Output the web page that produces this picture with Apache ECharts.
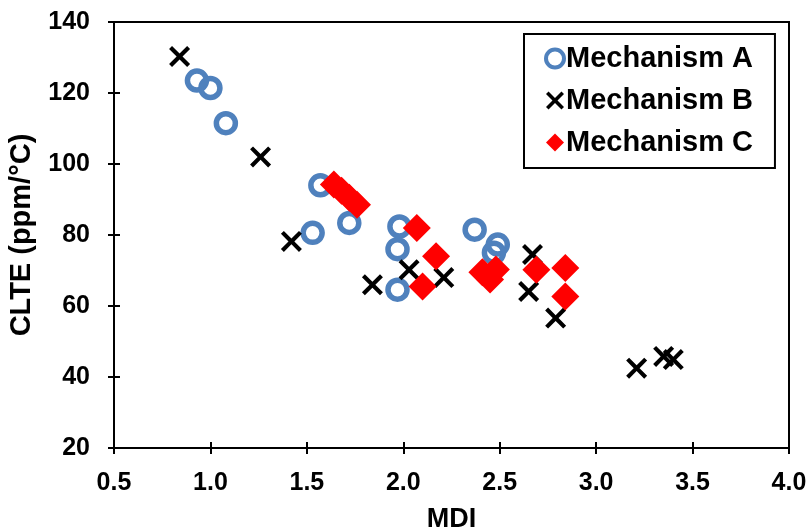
<!DOCTYPE html>
<html>
<head>
<meta charset="utf-8">
<script src="https://cdn.jsdelivr.net/npm/echarts@6/dist/echarts.min.js"></script>
<style>
  html, body { margin: 0; padding: 0; background: #fff; }
  #chart { width: 808px; height: 532px; }
</style>
</head>
<body>
<div id="chart"></div>
<script>
// MDI vs CLTE, grouped by mechanism
const mechA = [
  [0.93, 123.5], [1.00, 121.4], [1.08, 111.5], [1.57, 94.0], [1.53, 80.6],
  [1.72, 83.4], [1.98, 82.4], [1.97, 76.0], [1.97, 64.6], [2.37, 81.5],
  [2.49, 77.3], [2.47, 75.0]
];
const mechB = [
  [0.84, 130.3], [1.26, 102.0], [1.42, 78.2], [1.84, 66.0], [2.03, 70.2],
  [2.21, 68.0], [2.67, 74.5], [2.65, 64.1], [2.79, 56.6], [3.21, 42.5],
  [3.35, 45.8], [3.40, 44.9]
];
const mechC = [
  [1.64, 94.2], [1.68, 92.5], [1.72, 90.5], [1.76, 88.5], [2.07, 82.0],
  [2.17, 74.0], [2.10, 65.5], [2.41, 69.5], [2.45, 67.5], [2.48, 70.3],
  [2.69, 70.2], [2.84, 70.7], [2.84, 62.7]
];
const seriesNames = ['Mechanism A', 'Mechanism B', 'Mechanism C'];
const xRange = [0.5, 4.0, 0.5];
const yRange = [20, 140, 20];

const FONT = '"Liberation Sans", Arial, sans-serif';
const crossPath = 'path://M0,1.4L1.4,0L5,3.6L8.6,0L10,1.4L6.4,5L10,8.6L8.6,10L5,6.4L1.4,10L0,8.6L3.6,5Z';
const blue = '#4F81BD';
const red = '#FF0000';

const chart = echarts.init(document.getElementById('chart'), null, { renderer: 'canvas' });

function baseAxis(extra) {
  return Object.assign({
    type: 'value',
    splitLine: { show: false },
    axisLine: { show: true, onZero: false, lineStyle: { color: '#000', width: 2 } },
    axisTick: { show: true, length: 6, lineStyle: { color: '#000', width: 2 } }
  }, extra);
}

const option = {
  backgroundColor: '#fff',
  animation: false,
  grid: {
    left: 114, right: 19, top: 22, bottom: 84,
    containLabel: false,
    outerBoundsMode: 'none',
    show: true, borderColor: '#000', borderWidth: 2, backgroundColor: 'transparent'
  },
  legend: {
    orient: 'vertical',
    left: 524, top: 34,
    width: 251,
    padding: [10, 22, 11, 20],
    itemGap: 13,
    itemWidth: 18, itemHeight: 18,
    borderColor: '#000', borderWidth: 2,
    backgroundColor: '#fff',
    textStyle: { fontFamily: FONT, fontWeight: 'bold', fontSize: 29, color: '#000', padding: [0, 0, 0, -3] },
    data: [
      { name: seriesNames[0], icon: 'circle', itemStyle: { color: 'rgba(0,0,0,0)', borderColor: blue, borderWidth: 4 } },
      { name: seriesNames[1], icon: crossPath, itemStyle: { color: '#000' } },
      { name: seriesNames[2], icon: 'diamond', itemStyle: { color: red } }
    ]
  },
  xAxis: [
    baseAxis({
      min: xRange[0], max: xRange[1], interval: xRange[2],
      name: 'MDI', nameLocation: 'middle', nameGap: 58,
      nameTextStyle: { fontFamily: FONT, fontWeight: 'bold', fontSize: 27, color: '#000', verticalAlign: 'top' },
      axisLabel: {
        fontFamily: FONT, fontWeight: 'bold', fontSize: 25, color: '#000', margin: 23,
        formatter: v => v.toFixed(1)
      }
    }),
    baseAxis({
      min: xRange[0], max: xRange[1], interval: xRange[2], position: 'bottom',
      axisTick: { show: true, inside: true, length: 6, lineStyle: { color: '#000', width: 2 } },
      axisLabel: { show: false }
    })
  ],
  yAxis: [
    baseAxis({
      min: yRange[0], max: yRange[1], interval: yRange[2],
      name: 'CLTE (ppm/°C)', nameLocation: 'middle', nameGap: 78,
      nameTextStyle: { fontFamily: FONT, fontWeight: 'bold', fontSize: 29, color: '#000' },
      axisLabel: { fontFamily: FONT, fontWeight: 'bold', fontSize: 25, color: '#000', margin: 24 }
    }),
    baseAxis({
      min: yRange[0], max: yRange[1], interval: yRange[2], position: 'left',
      axisTick: { show: true, inside: true, length: 6, lineStyle: { color: '#000', width: 2 } },
      axisLabel: { show: false }
    })
  ],
  series: [
    {
      name: seriesNames[0], type: 'scatter', data: mechA, z: 2,
      symbol: 'circle', symbolSize: 19,
      itemStyle: { color: 'rgba(0,0,0,0)', borderColor: blue, borderWidth: 5.5, opacity: 1 }
    },
    {
      name: seriesNames[1], type: 'scatter', data: mechB, z: 3,
      symbol: crossPath, symbolSize: 21,
      itemStyle: { color: '#000', opacity: 1 }
    },
    {
      name: seriesNames[2], type: 'scatter', data: mechC, z: 4,
      symbol: 'diamond', symbolSize: 28,
      itemStyle: { color: red, opacity: 1 }
    }
  ]
};

chart.setOption(option);
</script>
</body>
</html>
